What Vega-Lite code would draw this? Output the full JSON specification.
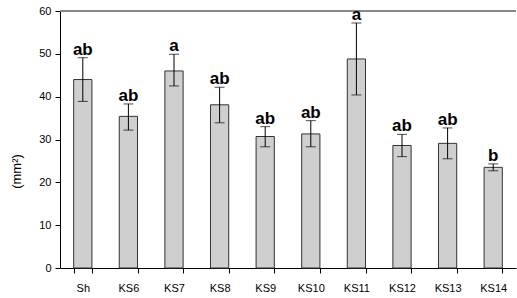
{
  "$schema": "https://vega.github.io/schema/vega-lite/v6.json",
  "width": 456,
  "height": 257,
  "autosize": "none",
  "padding": {"left": 60, "top": 11, "right": 1, "bottom": 30},
  "background": "white",
  "config": {"view": {"stroke": null}, "font": "Liberation Sans"},
  "data": {"values": [
    {"line": "Sh", "mean": 44.0, "lo": 38.9, "hi": 49.1, "group": "ab"},
    {"line": "KS6", "mean": 35.4, "lo": 32.2, "hi": 38.3, "group": "ab"},
    {"line": "KS7", "mean": 46.0, "lo": 42.5, "hi": 49.9, "group": "a"},
    {"line": "KS8", "mean": 38.1, "lo": 33.9, "hi": 42.2, "group": "ab"},
    {"line": "KS9", "mean": 30.7, "lo": 28.3, "hi": 33.0, "group": "ab"},
    {"line": "KS10", "mean": 31.3, "lo": 28.3, "hi": 34.4, "group": "ab"},
    {"line": "KS11", "mean": 48.8, "lo": 40.4, "hi": 57.2, "group": "a"},
    {"line": "KS12", "mean": 28.6, "lo": 26.0, "hi": 31.2, "group": "ab"},
    {"line": "KS13", "mean": 29.1, "lo": 25.5, "hi": 32.7, "group": "ab"},
    {"line": "KS14", "mean": 23.5, "lo": 22.7, "hi": 24.3, "group": "b"}
  ]},
  "encoding": {
    "x": {
      "field": "line", "type": "nominal", "sort": null,
      "scale": {"paddingInner": 0.6, "paddingOuter": 0.3},
      "axis": {
        "title": null, "labelAngle": 0, "labelFontSize": 11, "labelColor": "#000",
        "domainColor": "#000", "tickColor": "#000", "tickSize": 5, "tickBand": "extent",
        "labelPadding": 9
      }
    }
  },
  "layer": [
    {
      "mark": {"type": "rule", "color": "#888888", "strokeWidth": 1.5},
      "encoding": {"x": null, "y": {"datum": 60, "type": "quantitative"}}
    },
    {
      "mark": {"type": "bar", "fill": "#cfcfcf", "stroke": "#333333", "strokeWidth": 1},
      "encoding": {
        "y": {
          "field": "mean", "type": "quantitative",
          "scale": {"domain": [0, 60], "nice": false},
          "axis": {
            "title": "(mm²)", "titleFontSize": 13, "titleFontWeight": "normal", "titleColor": "#000",
            "titleAngle": -90, "titleX": -44, "titleY": 160, "titleAlign": "center", "titleBaseline": "middle",
            "values": [0, 10, 20, 30, 40, 50, 60], "labelFontSize": 11, "labelColor": "#000",
            "grid": false, "domainColor": "#000", "tickColor": "#000", "tickSize": 5, "labelPadding": 4
          }
        }
      }
    },
    {
      "mark": {"type": "rule", "color": "#000", "strokeWidth": 1},
      "encoding": {"y": {"field": "lo", "type": "quantitative"}, "y2": {"field": "hi"}}
    },
    {
      "mark": {"type": "tick", "color": "#000", "size": 10, "thickness": 1},
      "encoding": {"y": {"field": "lo", "type": "quantitative"}}
    },
    {
      "mark": {"type": "tick", "color": "#000", "size": 10, "thickness": 1},
      "encoding": {"y": {"field": "hi", "type": "quantitative"}}
    },
    {
      "mark": {"type": "text", "fontSize": 17, "fontWeight": "bold", "color": "#000", "baseline": "alphabetic", "dy": -3},
      "encoding": {"y": {"field": "hi", "type": "quantitative"}, "text": {"field": "group"}}
    }
  ]
}
